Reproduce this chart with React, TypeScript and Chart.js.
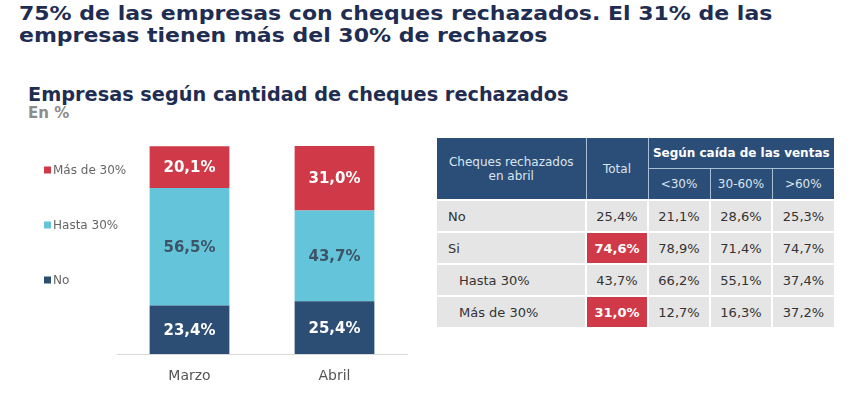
import React, { useEffect, useRef } from "react";
import { Chart, registerables } from "chart.js";

Chart.register(...registerables);

// ---- Chart data ----
const categories = ["Marzo", "Abril"];
const seriesNames = ["No", "Hasta 30%", "Más de 30%"];
const noValues = [23.4, 25.4];
const hastaValues = [56.5, 43.7];
const masValues = [20.1, 31.0];
const seriesColors = ["#2c4e75", "#63c4da", "#d03a48"];
const labelColors = ["#ffffff", "#3e5466", "#ffffff"];

// ---- Table data ----
const tableRowLabels = ["No", "Si", "Hasta 30%", "Más de 30%"];
const tableSubColumns = ["<30%", "30-60%", ">60%"];
const totalValues = [25.4, 74.6, 43.7, 31.0];
const lt30Values = [21.1, 78.9, 66.2, 12.7];
const mid3060Values = [28.6, 71.4, 55.1, 16.3];
const gt60Values = [25.3, 74.7, 37.4, 37.2];
const highlightedRows = [1, 3];
const indentedRows = [2, 3];

const FONT = "'DejaVu Sans', Verdana, sans-serif";
const fmt = (v: number) => v.toFixed(1).replace(".", ",") + "%";

const valueLabelPlugin = {
  id: "valueLabels",
  afterDatasetsDraw(chart: any) {
    const ctx = chart.ctx;
    ctx.save();
    ctx.font = `bold 15px ${FONT}`;
    ctx.textAlign = "center";
    ctx.textBaseline = "middle";
    chart.data.datasets.forEach((ds: any, di: number) => {
      const meta = chart.getDatasetMeta(di);
      meta.data.forEach((el: any, i: number) => {
        const { x, y, base } = el.getProps(["x", "y", "base"], true);
        ctx.fillStyle = labelColors[di];
        ctx.fillText(fmt(ds.data[i]), x, (y + base) / 2 + 1);
      });
    });
    ctx.restore();
  },
};

const sideLegendPlugin = {
  id: "sideLegend",
  afterDraw(chart: any) {
    const ctx = chart.ctx;
    const top = chart.chartArea.top;
    ctx.save();
    ctx.font = `12px ${FONT}`;
    ctx.textBaseline = "middle";
    ctx.textAlign = "left";
    const n = chart.data.datasets.length;
    for (let k = 0; k < n; k++) {
      const di = n - 1 - k;
      const ds = chart.data.datasets[di];
      const cy = top + 24 + k * 55;
      ctx.fillStyle = ds.backgroundColor;
      ctx.fillRect(44, cy - 3.5, 7, 7);
      ctx.fillStyle = "#666666";
      ctx.fillText(ds.label, 53, cy + 0.5);
    }
    ctx.restore();
  },
};

function BarChart() {
  const ref = useRef<HTMLCanvasElement | null>(null);
  useEffect(() => {
    if (!ref.current) return;
    const seriesValues = [noValues, hastaValues, masValues];
    const chart = new Chart(ref.current, {
      type: "bar",
      data: {
        labels: categories,
        datasets: seriesNames.map((name, i) => ({
          label: name,
          data: seriesValues[i],
          backgroundColor: seriesColors[i],
          borderWidth: 0,
          categoryPercentage: 1,
          barPercentage: 0.55,
        })),
      },
      options: {
        animation: false,
        responsive: true,
        maintainAspectRatio: false,
        layout: { padding: { left: 117, right: 23, top: 16, bottom: 0 } },
        plugins: {
          legend: { display: false },
          tooltip: { enabled: false },
        },
        scales: {
          x: {
            stacked: true,
            grid: { display: false },
            border: { display: true, color: "#d9d9d9", width: 1 },
            ticks: {
              color: "#555555",
              font: { family: FONT, size: 14 },
              padding: 6,
            },
            afterFit: (scale: any) => {
              scale.height = 44;
            },
          },
          y: {
            stacked: true,
            display: false,
            min: 0,
            max: 100.1,
          },
        },
      },
      plugins: [valueLabelPlugin, sideLegendPlugin],
    } as any);
    return () => chart.destroy();
  }, []);
  return <canvas ref={ref} />;
}

function DataTable() {
  const cols = [totalValues, lt30Values, mid3060Values, gt60Values];
  const headBg = "#2b4e78";
  const headLine = "1px solid #a9bfd6";
  const cellBg = "#e5e5e5";
  const white = "2px solid #ffffff";
  const red = "#d03a48";
  const th: React.CSSProperties = {
    background: headBg,
    color: "#dbe5ef",
    fontSize: 12,
    fontWeight: "normal",
    textAlign: "center",
    padding: 0,
    height: 30,
  };
  return (
    <table
      style={{
        position: "absolute",
        left: 437,
        top: 138,
        borderCollapse: "collapse",
        tableLayout: "fixed",
        width: 397,
        fontFamily: FONT,
      }}
    >
      <colgroup>
        <col style={{ width: 149 }} />
        <col style={{ width: 62 }} />
        <col style={{ width: 62 }} />
        <col style={{ width: 62 }} />
        <col style={{ width: 62 }} />
      </colgroup>
      <thead>
        <tr>
          <th rowSpan={2} style={{ ...th, lineHeight: "14px" }}>
            Cheques rechazados
            <br />
            en abril
          </th>
          <th rowSpan={2} style={{ ...th, borderLeft: headLine }}>
            Total
          </th>
          <th
            colSpan={3}
            style={{ ...th, borderLeft: headLine, color: "#ffffff", fontWeight: "bold" }}
          >
            Según caída de las ventas
          </th>
        </tr>
        <tr>
          {tableSubColumns.map((c) => (
            <th key={c} style={{ ...th, borderLeft: headLine, borderTop: headLine }}>
              {c}
            </th>
          ))}
        </tr>
      </thead>
      <tbody>
        {tableRowLabels.map((label, r) => (
          <tr key={label}>
            <td
              style={{
                background: cellBg,
                color: "#333333",
                fontSize: 13,
                height: 30,
                padding: 0,
                borderTop: white,
                paddingLeft: indentedRows.includes(r) ? 22 : 11,
              }}
            >
              {label}
            </td>
            {cols.map((col, c) => {
              const hi = c === 0 && highlightedRows.includes(r);
              return (
                <td
                  key={c}
                  style={{
                    background: hi ? red : cellBg,
                    color: hi ? "#ffffff" : "#333333",
                    fontWeight: hi ? "bold" : "normal",
                    fontSize: 13,
                    textAlign: "center",
                    height: 30,
                    padding: 0,
                    borderTop: white,
                    borderLeft: white,
                  }}
                >
                  {fmt(col[r])}
                </td>
              );
            })}
          </tr>
        ))}
      </tbody>
    </table>
  );
}

export default function App() {
  return (
    <div
      style={{
        position: "fixed",
        left: 0,
        top: 0,
        width: 862,
        height: 398,
        background: "#ffffff",
        overflow: "hidden",
        fontFamily: FONT,
      }}
    >
      <div
        style={{
          position: "absolute",
          left: 19,
          top: 2,
          fontSize: 20,
          fontWeight: "bold",
          color: "#1f2d52",
          lineHeight: "22px",
          whiteSpace: "nowrap",
          transform: "scaleX(1.1)",
          transformOrigin: "left top",
        }}
      >
        75% de las empresas con cheques rechazados. El 31% de las
        <br />
        empresas tienen más del 30% de rechazos
      </div>
      <div
        style={{
          position: "absolute",
          left: 28,
          top: 83,
          fontSize: 19,
          fontWeight: "bold",
          color: "#1f2d52",
          lineHeight: "22px",
          whiteSpace: "nowrap",
          transform: "scaleX(1.015)",
          transformOrigin: "left top",
        }}
      >
        Empresas según cantidad de cheques rechazados
      </div>
      <div
        style={{
          position: "absolute",
          left: 28,
          top: 104,
          fontSize: 15,
          fontWeight: "bold",
          color: "#8c8c8c",
          lineHeight: "18px",
          whiteSpace: "nowrap",
        }}
      >
        En %
      </div>
      <div style={{ position: "absolute", left: 0, top: 130, width: 430, height: 268 }}>
        <BarChart />
      </div>
      <DataTable />
    </div>
  );
}
